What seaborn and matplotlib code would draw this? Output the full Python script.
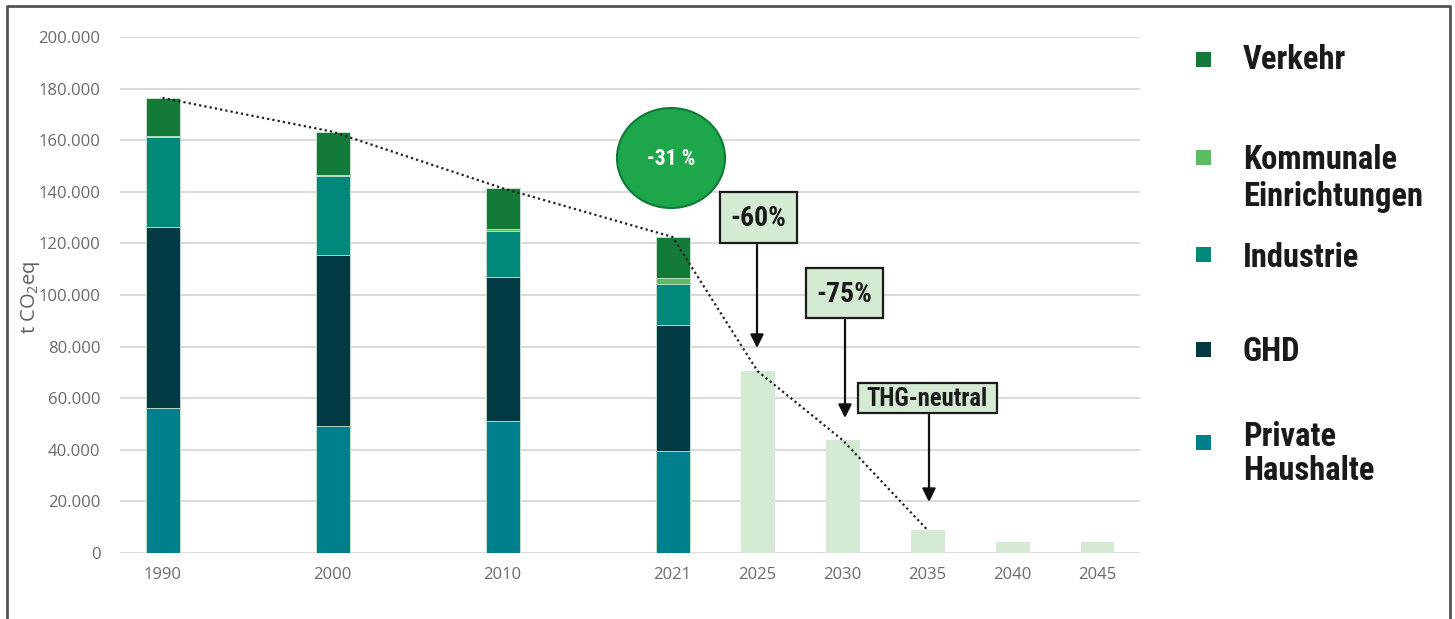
import matplotlib
matplotlib.use("Agg")
import matplotlib.pyplot as plt
from matplotlib import font_manager as fm
from matplotlib.patches import Rectangle, Ellipse, FancyArrowPatch
from matplotlib.lines import Line2D
import seaborn as sns
import pandas as pd

# ---------------- data ----------------
years = ["1990", "2000", "2010", "2021"]
private_haushalte = [56200, 49200, 51200, 39500]
ghd = [70200, 66300, 55800, 48900]
industrie = [34800, 30600, 17800, 15900]
kommunale = [600, 600, 600, 2300]
verkehr = [14600, 16600, 16000, 15900]

target_years = ["2025", "2030", "2035", "2040", "2045"]
target_values = [70500, 43800, 8900, 4300, 4300]

trend_years = ["1990", "2000", "2010", "2021", "2025", "2030", "2035"]

series_names = ["Verkehr", "Kommunale\nEinrichtungen", "Industrie", "GHD", "Private\nHaushalte"]
y_ticks = [0, 20000, 40000, 60000, 80000, 100000, 120000, 140000, 160000, 180000, 200000]

# ---------------- style ----------------
W, H = 1455, 619
sns.set_theme(style="white")
names = {f.name for f in fm.fontManager.ttflist}
narrow = None
for cand in ["Liberation Sans Narrow", "Roboto Condensed", "Open Sans Condensed"]:
    if cand in names:
        narrow = cand
        break
cond = narrow if narrow else "Roboto"
scale = 1.0 if narrow else 0.91
tickfont = "Open Sans" if "Open Sans" in names else "DejaVu Sans"
plt.rcParams["font.family"] = [tickfont, "DejaVu Sans"]

col_verkehr = "#137A3A"
col_kommunale = "#5DBB63"
col_industrie = "#00897B"
col_ghd = "#023A44"
col_private = "#00808C"
col_target = "#D5EAD3"
colors = [col_verkehr, col_kommunale, col_industrie, col_ghd, col_private]

fig = plt.figure(figsize=(W / 100, H / 100), dpi=100)
ax = fig.add_axes([120 / W, 1 - 553 / H, (1140 - 120) / W, (553 - 37) / H])

order = ["1990", " ", "2000", "  ", "2010", "   ", "2021"] + target_years

df = pd.DataFrame({
    "year": years,
    "private": private_haushalte,
    "ghd": ghd,
    "industrie": industrie,
    "kommunale": kommunale,
    "verkehr": verkehr,
})
df["c1"] = df["private"]
df["c2"] = df["c1"] + df["ghd"]
df["c3"] = df["c2"] + df["industrie"]
df["c4"] = df["c3"] + df["kommunale"]
df["c5"] = df["c4"] + df["verkehr"]

# stacked by layering cumulative totals (top-most first)
for col, c in zip(["c5", "c4", "c3", "c2", "c1"], colors):
    sns.barplot(data=df, x="year", y=col, order=order, color=c, width=0.4,
                saturation=1, errorbar=None, ax=ax, linewidth=0.6, edgecolor="#cfe9d6")

tdf = pd.DataFrame({"year": target_years, "value": target_values})
sns.barplot(data=tdf, x="year", y="value", order=order, color=col_target, width=0.4,
            saturation=1, errorbar=None, ax=ax, linewidth=0)

# dotted trend line through the totals
totals = dict(zip(years, df["c5"]))
totals.update(dict(zip(target_years, target_values)))
tx = [order.index(y) for y in trend_years]
ty = [totals[y] for y in trend_years]
ax.plot(tx, ty, color="#222222", linestyle=(0, (1, 1.4)), linewidth=1.6, zorder=5)

ax.set_xlim(-0.5, len(order) - 0.5)
ax.set_ylim(0, 200000)
ax.set_yticks(y_ticks)
ax.set_yticklabels([f"{v:,}".replace(",", ".") for v in y_ticks])
ax.set_xticks(range(len(order)))
ax.set_xticklabels([o if o.strip() else "" for o in order])
ax.tick_params(axis="both", length=0, labelsize=12, labelcolor="#6a6a6a")
ax.tick_params(axis="y", pad=14)
ax.tick_params(axis="x", pad=10)
ax.yaxis.grid(True, color="#dadada", linewidth=1.4)
ax.set_axisbelow(True)
for s in ax.spines.values():
    s.set_visible(False)
ax.set_xlabel("")
ax.set_ylabel("")
fig.text(31 / W, 1 - 297 / H, r"t CO$_\mathregular{2}$eq", rotation=90, ha="center",
         va="center", fontsize=14.5, color="#5e5e5e")


def P(x, y):
    return (x / W, 1 - y / H)


# -31 % circle
ell = Ellipse(P(671, 158), 108 / W, 100 / H, transform=fig.transFigure,
              facecolor="#1DA64A", edgecolor="#0E7A37", linewidth=1.5, zorder=10)
fig.add_artist(ell)
fig.text(*P(671, 159), "-31 %", ha="center", va="center", color="white",
         fontsize=15.5 * scale, fontweight="bold", family=[cond, "DejaVu Sans"], zorder=11)

# boxes with arrows
boxes = [
    ("-60%", 720, 192, 77, 51, 757, 348, 20.0 * scale),
    ("-75%", 806, 268, 77, 50, 845, 418, 20.0 * scale),
    ("THG-neutral", 858, 383, 139, 30, 929, 502, 18.5 * scale * 0.96),
]
for label, bx, by, bw, bh, axx, tipy, fs in boxes:
    r = Rectangle(P(bx, by + bh), bw / W, bh / H, transform=fig.transFigure,
                  facecolor=col_target, edgecolor="#1a1a1a", linewidth=1.6, zorder=10)
    fig.add_artist(r)
    fig.text(*P(bx + bw / 2, by + bh / 2 + 1), label, ha="center", va="center",
             fontsize=fs, fontweight="bold", color="#1a1a1a",
             family=[cond, "DejaVu Sans"], zorder=11)
    arr = FancyArrowPatch(P(axx, by + bh), P(axx, tipy), transform=fig.transFigure,
                          arrowstyle="-|>", mutation_scale=20, linewidth=1.6,
                          color="#111111", zorder=10, shrinkA=0, shrinkB=0)
    fig.add_artist(arr)

# legend
legend_y = [60, 158, 255, 350, 443]
text_y = [[60], [160, 197], [258], [352], [437, 471]]
for name, c, sy, tys in zip(series_names, colors, legend_y, text_y):
    sq = Rectangle(P(1196, sy + 7), 15 / W, 15 / H, transform=fig.transFigure,
                   facecolor=c, edgecolor="none", zorder=10)
    fig.add_artist(sq)
    for line, ty_ in zip(name.split("\n"), tys):
        fig.text(*P(1243, ty_), line, ha="left", va="center", fontsize=23.5 * scale,
                 fontweight="bold", color="#1a1a1a", family=[cond, "DejaVu Sans"])

# frame around the figure (left, top, right)
frame = Line2D([7 / W, 7 / W, 1450 / W, 1450 / W], [0, 1 - 6 / H, 1 - 6 / H, 0],
               transform=fig.transFigure, color="#555555", linewidth=2)
fig.add_artist(frame)

fig.savefig("out.png", dpi=100)
